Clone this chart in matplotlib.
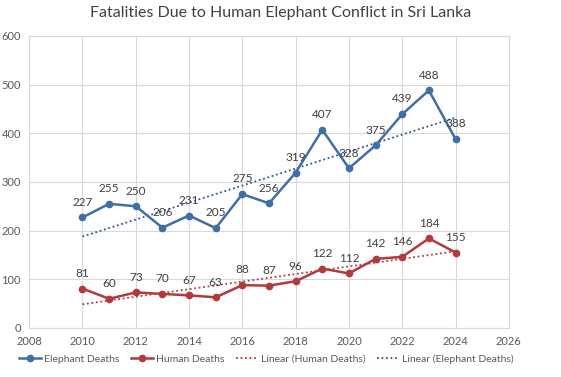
import matplotlib
matplotlib.use('Agg')
import matplotlib.pyplot as plt
import numpy as np

plt.rcParams['font.family'] = ['Lato', 'DejaVu Sans']

years = [2010, 2011, 2012, 2013, 2014, 2015, 2016, 2017, 2018, 2019, 2020, 2021, 2022, 2023, 2024]
elephant_deaths = [227, 255, 250, 206, 231, 205, 275, 256, 319, 407, 328, 375, 439, 488, 388]
human_deaths = [81, 60, 73, 70, 67, 63, 88, 87, 96, 122, 112, 142, 146, 184, 155]

blue = '#3F6FA6'
red = '#B23A3C'
text_col = '#404040'

fig = plt.figure(figsize=(5.61, 3.77), dpi=100)
ax = fig.add_axes([0.052, 0.130, 0.855, 0.775])

x = np.array(years)
ax.plot(x, elephant_deaths, color=blue, lw=1.8, marker='o', ms=4.5, label='Elephant Deaths', zorder=3)
ax.plot(x, human_deaths, color=red, lw=1.8, marker='o', ms=4.5, label='Human Deaths', zorder=3)

# linear trends
pe = np.polyfit(x, elephant_deaths, 1)
ph = np.polyfit(x, human_deaths, 1)
ax.plot(x, np.polyval(ph, x), color=red, lw=1.3, ls=(0, (1, 1.5)), label='Linear (Human Deaths)', zorder=2)
ax.plot(x, np.polyval(pe, x), color='#2F5597', lw=1.3, ls=(0, (1, 1.5)), label='Linear (Elephant Deaths)', zorder=2)

for xi, v in zip(years, elephant_deaths):
    ax.annotate(str(v), (xi, v), xytext=(0, 7), textcoords='offset points',
                ha='center', va='bottom', fontsize=8.5, color=text_col)
for xi, v in zip(years, human_deaths):
    ax.annotate(str(v), (xi, v), xytext=(0, 7), textcoords='offset points',
                ha='center', va='bottom', fontsize=8.5, color=text_col)

ax.set_xlim(2008, 2026)
ax.set_ylim(0, 600)
ax.set_xticks(range(2008, 2027, 2))
ax.set_yticks(range(0, 601, 100))
ax.grid(True, color='#D9D9D9', lw=0.8)
ax.set_axisbelow(True)
for s in ax.spines.values():
    s.set_color('#D9D9D9')
ax.tick_params(length=0, labelsize=8, colors='#595959', pad=6)

fig.suptitle('Fatalities Due to Human Elephant Conflict in Sri Lanka', y=0.985,
             fontsize=11.5, color=text_col)
fig.legend(loc='lower center', bbox_to_anchor=(0.475, 0.01), ncol=4, frameon=False,
           fontsize=7.5, handlelength=2.1, columnspacing=1.1, handletextpad=0.3,
           labelcolor='#595959')

fig.savefig('out.png', dpi=100)
